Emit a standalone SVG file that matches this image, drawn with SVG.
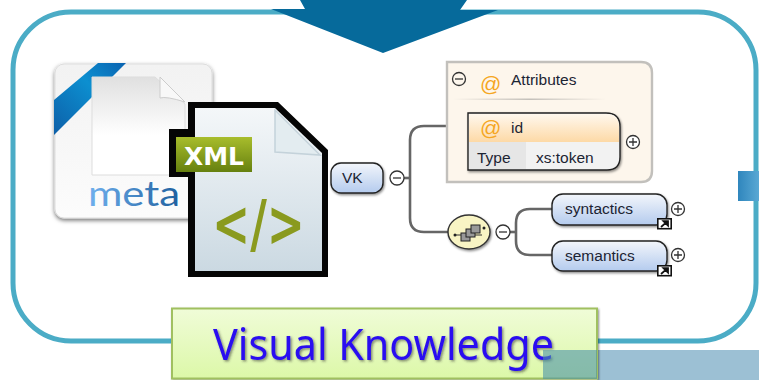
<svg xmlns="http://www.w3.org/2000/svg" width="759" height="380" viewBox="0 0 759 380">
<defs>
<style>
.t{font-family:"Liberation Sans",Arial,sans-serif;fill:#1c2433;font-size:15.5px}
.at{font-family:"Liberation Sans",Arial,sans-serif;fill:#f5a623;font-size:21px}
.c{fill:#fff;stroke:#333;stroke-width:1.3}
.s{fill:none;stroke:#333;stroke-width:1.3}
.w{fill:none;stroke:#666;stroke-width:2.6}
.pill{fill:url(#pill);stroke:#222;stroke-width:1.4;filter:url(#sh)}
</style>
<linearGradient id="pill" x1="0" y1="0" x2="0" y2="1"><stop offset="0" stop-color="#f3f6fb"/><stop offset="1" stop-color="#b4cbee"/></linearGradient>
<linearGradient id="hdr" x1="0" y1="0" x2="0" y2="1"><stop offset="0" stop-color="#fff8ee"/><stop offset="1" stop-color="#fdd9a6"/></linearGradient>
<linearGradient id="grn" x1="0" y1="0" x2="0" y2="1"><stop offset="0" stop-color="#f0fcd8"/><stop offset="1" stop-color="#dcf8a8"/></linearGradient>
<linearGradient id="meta" x1="0" y1="0" x2="1" y2="0"><stop offset="0" stop-color="#6fb0ee"/><stop offset="1" stop-color="#1f5f9e"/></linearGradient>
<linearGradient id="card" x1="0" y1="0" x2="0" y2="1"><stop offset="0" stop-color="#f2f2f2"/><stop offset="1" stop-color="#fcfcfc"/></linearGradient>
<linearGradient id="page" x1="0" y1="0" x2="0" y2="1"><stop offset="0" stop-color="#e0e0e0"/><stop offset=".6" stop-color="#fff"/></linearGradient>
<linearGradient id="doc" x1="0" y1="0" x2="0" y2="1"><stop offset="0" stop-color="#f4f7f9"/><stop offset="1" stop-color="#cbd9e2"/></linearGradient>
<linearGradient id="rib" x1="0" y1="1" x2="1" y2="0"><stop offset="0" stop-color="#0d5fa8"/><stop offset=".6" stop-color="#0c8fd0"/><stop offset="1" stop-color="#0a62b0"/></linearGradient>
<linearGradient id="tag" x1="0" y1="0" x2="0" y2="1"><stop offset="0" stop-color="#a8bd2c"/><stop offset="1" stop-color="#66800f"/></linearGradient>
<linearGradient id="sep" x1="0" y1="0" x2="1" y2="0"><stop offset="0" stop-color="#fdf6ec"/><stop offset=".5" stop-color="#c4c0ba"/><stop offset="1" stop-color="#fdf6ec"/></linearGradient>
<linearGradient id="sq" x1="0" y1="0" x2="1" y2="0"><stop offset="0" stop-color="#2f86bd"/><stop offset="1" stop-color="#5aa8d4"/></linearGradient>
<filter id="sh" x="-20%" y="-20%" width="140%" height="140%"><feDropShadow dx="1" dy="1.5" stdDeviation="1" flood-color="#000" flood-opacity=".45"/></filter>
<filter id="sh2" x="-10%" y="-10%" width="120%" height="120%"><feDropShadow dx="0" dy="2" stdDeviation="2" flood-color="#000" flood-opacity=".55"/></filter>
<filter id="sh3" x="-5%" y="-10%" width="110%" height="125%"><feDropShadow dx="1.5" dy="1.5" stdDeviation="1" flood-color="#333" flood-opacity=".55"/></filter>
<g id="shortcut"><rect x="0" y="0" width="15" height="11.5" fill="#111"/><rect x="1.6" y="1.6" width="11.8" height="8.3" fill="#fff"/><path d="M4 9 L9 4.6 M6.5 3.2 H11 V7.6 Z" fill="#111" stroke="#111" stroke-width="1.8"/></g>
</defs>

<g id="frame">
<rect x="13" y="12" width="743" height="329" rx="58" ry="58" fill="#fff" stroke="#4bacc6" stroke-width="5"/>
</g>
<g id="top-arrow">
<polygon points="300,0 305,9 271,9 383,53 498,10 460,10 467,0" fill="#066a9b"/>
</g>
<rect id="right-square" x="738" y="171" width="21" height="30" fill="url(#sq)"/>

<g id="meta-icon">
<rect x="55" y="64" width="157" height="154" rx="9" fill="url(#card)" stroke="#ddd" filter="url(#sh2)"/>
<polygon points="98,63 126,63 54,135 54,100" fill="url(#rib)"/>
<path d="M92 77 H155 L185 104 V175 H92 Z" fill="url(#page)" stroke="#ddd"/>
<path d="M160 77 L185 102 Q166 96 160 98 Z" fill="#f8f8f8" stroke="#ccc"/>
<text x="88" y="206" font-family="Lato,'Open Sans',sans-serif" font-size="35" fill="url(#meta)" textLength="92" lengthAdjust="spacingAndGlyphs">meta</text>
</g>

<g id="xml-icon">
<polygon points="188,102 278,102 328,150 328,277 188,277 188,177 169,177 169,129 188,129" fill="#050505"/>
<polygon points="195,108 275,108 322,153 322,271 195,271" fill="url(#doc)"/>
<polygon points="275,110 275,152 320,155" fill="#e3ecf0" stroke="#c4d2da" stroke-width="1.5"/>
<rect x="176" y="137" width="76" height="35" fill="url(#tag)"/>
<text x="214" y="165" text-anchor="middle" font-family="'DejaVu Sans',sans-serif" font-weight="bold" font-size="25" fill="#fff" textLength="60" lengthAdjust="spacingAndGlyphs">XML</text>
<text x="212" y="246" font-family="'DejaVu Sans',sans-serif" font-weight="bold" font-size="64" fill="#8a9a1e" textLength="93" lengthAdjust="spacingAndGlyphs">&lt;/&gt;</text>
</g>

<g id="connectors">
<path class="w" d="M404 178 H410"/>
<path class="w" d="M446 126 H424 Q410 126 410 140 V218 Q410 232 424 232 H448"/>
<path class="w" d="M510 232 H516"/>
<path class="w" d="M552 209 H530 Q516 209 516 223 V241 Q516 255 530 255 H552"/>
<path class="w" d="M620 142 H627"/>
</g>

<g id="attributes">
<path d="M447 62 H641 Q652 62 652 73 V171 Q652 182 641 182 H447 Z" fill="#fdf6ec" stroke="#c2c0bc" stroke-width="2.4"/>
<circle class="c" cx="459" cy="79" r="6.5" style="fill:none"/><path class="s" d="M455 79 H463"/>
<text class="at" x="480" y="91">@</text>
<text class="t" x="511" y="85">Attributes</text>
<rect x="453" y="98.500" width="153" height="1.500" fill="url(#sep)"/>
</g>

<g id="attr-id">
<path d="M468 113 H606 Q620 113 620 127 V157 Q620 170 607 170 H468 Z" fill="#f2f2f2" stroke="#222" stroke-width="1.4" filter="url(#sh)"/>
<path d="M469 114 H606 Q619 114 619 127 V142 H469 Z" fill="url(#hdr)"/>
<rect x="469" y="142" width="57" height="27" fill="#e6e6e6"/>
<text class="at" x="480" y="135">@</text>
<text class="t" x="511" y="133">id</text>
<text class="t" x="477" y="163">Type</text>
<text class="t" x="536" y="163">xs:token</text>
<circle class="c" cx="633" cy="142" r="6.500"/><path class="s" d="M629 142 H637 M633 138 V146"/>
</g>

<g id="vk">
<rect class="pill" x="331" y="163" width="52" height="30" rx="10"/>
<text class="t" x="342" y="183">VK</text>
<circle class="c" cx="397" cy="178" r="7"/><path class="s" d="M393 178 H401"/>
</g>

<g id="sequence">
<ellipse cx="469" cy="232" rx="21" ry="17" fill="#f8f4c4" stroke="#333" stroke-width="1.4" filter="url(#sh)"/>
<path d="M455 235 H482" stroke="#333" stroke-width="1"/>
<rect x="461" y="233" width="9" height="8" fill="#999" stroke="#222"/>
<rect x="466" y="229" width="9" height="8" fill="#999" stroke="#222"/>
<rect x="471" y="225" width="9" height="8" fill="#999" stroke="#222"/>
<circle cx="455" cy="235" r="1.500" fill="#222"/><circle cx="484" cy="228" r="1.500" fill="#222"/>
<circle class="c" cx="503" cy="232" r="7"/><path class="s" d="M499 232 H507"/>
</g>

<g id="syntactics">
<rect class="pill" x="552" y="194" width="115" height="31" rx="11"/>
<text class="t" x="565" y="214">syntactics</text>
<use href="#shortcut" x="657" y="218"/>
<circle class="c" cx="678" cy="209" r="6.500"/><path class="s" d="M674 209 H682 M678 205 V213"/>
</g>

<g id="semantics">
<rect class="pill" x="552" y="241" width="115" height="30" rx="11"/>
<text class="t" x="565" y="261">semantics</text>
<use href="#shortcut" x="657" y="265"/>
<circle class="c" cx="678" cy="255" r="6.500"/><path class="s" d="M674 255 H682 M678 251 V259"/>
</g>

<g id="title">
<rect x="597" y="350" width="162" height="30" fill="#9cc0d4"/>
<rect x="172" y="308.500" width="425" height="70" fill="url(#grn)" stroke="#a0c060" stroke-width="2" filter="url(#sh)"/>
<text x="213" y="360" font-family="'Noto Sans',sans-serif" font-size="43" fill="#2a10f0" filter="url(#sh3)" textLength="341" lengthAdjust="spacingAndGlyphs">Visual  Knowledge</text>
<rect x="543" y="350" width="54" height="29" fill="#4b92a8" fill-opacity=".6"/>
</g>
</svg>
